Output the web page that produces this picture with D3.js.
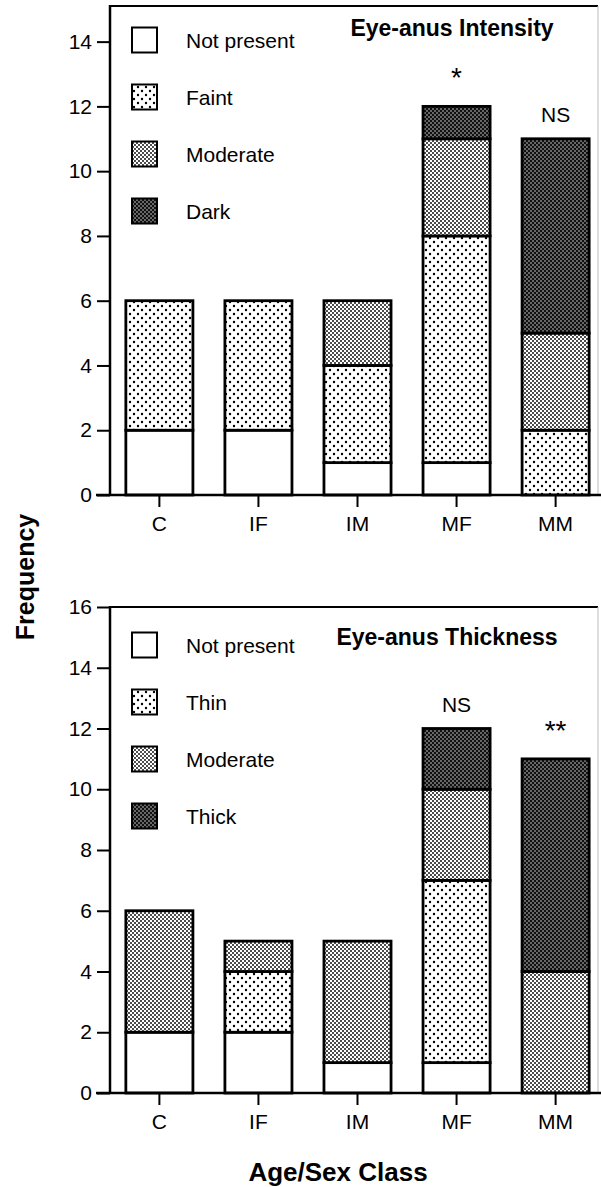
<!DOCTYPE html>
<html>
<head>
<meta charset="utf-8">
<script src="https://cdn.jsdelivr.net/npm/d3@7"></script>
<style>
  body { margin: 0; background: #fff; }
  text { font-family: "Liberation Sans", Arial, sans-serif; fill: #000; }
  .bold { font-weight: bold; }
</style>
</head>
<body>
<script>
// categories and stacked counts
var classes = ["C", "IF", "IM", "MF", "MM"];

// panel 1: eye-anus intensity
var intensityLevels = ["Not present", "Faint", "Moderate", "Dark"];
var intNotPresent = [2, 2, 1, 1, 0];
var intFaint      = [4, 4, 3, 7, 2];
var intModerate   = [0, 0, 2, 3, 3];
var intDark       = [0, 0, 0, 1, 6];
var intSig        = ["", "", "", "*", "NS"];
var intTicks      = [0, 2, 4, 6, 8, 10, 12, 14];

// panel 2: eye-anus thickness
var thicknessLevels = ["Not present", "Thin", "Moderate", "Thick"];
var thkNotPresent = [2, 2, 1, 1, 0];
var thkThin       = [0, 2, 0, 6, 0];
var thkModerate   = [4, 1, 4, 3, 4];
var thkThick      = [0, 0, 0, 2, 7];
var thkSig        = ["", "", "", "NS", "**"];
var thkTicks      = [0, 2, 4, 6, 8, 10, 12, 14, 16];

var w = 601, h = 1187;
var left = 110, right = 605, frameRight = 598;

var svg = d3.select("body").append("svg")
    .attr("width", w)
    .attr("height", h);

// fill patterns, one per level (white, sparse dots, dense dots, dark)
var defs = svg.append("defs");

var pFaint = defs.append("pattern").attr("id", "p-faint")
    .attr("patternUnits", "userSpaceOnUse").attr("width", 8).attr("height", 8);
pFaint.append("rect").attr("width", 8).attr("height", 8).attr("fill", "#fff");
pFaint.append("circle").attr("cx", 2).attr("cy", 2).attr("r", 1.2).attr("fill", "#000");
pFaint.append("circle").attr("cx", 6).attr("cy", 6).attr("r", 1.2).attr("fill", "#000");

var pMod = defs.append("pattern").attr("id", "p-mod")
    .attr("patternUnits", "userSpaceOnUse").attr("width", 4).attr("height", 4);
pMod.append("rect").attr("width", 4).attr("height", 4).attr("fill", "#fff");
pMod.append("circle").attr("cx", 1).attr("cy", 1).attr("r", 0.95).attr("fill", "#000");
pMod.append("circle").attr("cx", 3).attr("cy", 3).attr("r", 0.95).attr("fill", "#000");

var pDark = defs.append("pattern").attr("id", "p-dark")
    .attr("patternUnits", "userSpaceOnUse").attr("width", 4).attr("height", 4);
pDark.append("rect").attr("width", 4).attr("height", 4).attr("fill", "#111");
pDark.append("circle").attr("cx", 1).attr("cy", 1).attr("r", 0.7).attr("fill", "#fff");
pDark.append("circle").attr("cx", 3).attr("cy", 3).attr("r", 0.7).attr("fill", "#fff");

var fills = ["#fff", "url(#p-faint)", "url(#p-mod)", "url(#p-dark)"];

var x = d3.scaleBand()
    .domain(classes)
    .range([left, right])
    .paddingInner(0.323)
    .paddingOuter(0.16);

function drawPanel(cfg) {
  var y = d3.scaleLinear().domain([0, cfg.yMax]).range([cfg.bottom, cfg.top]);
  var g = svg.append("g");

  // stack the four series
  var rows = classes.map(function(c, i) {
    var r = { cls: c };
    cfg.levels.forEach(function(l, j) { r[l] = cfg.series[j][i]; });
    return r;
  });
  var stacked = d3.stack().keys(cfg.levels)(rows);

  stacked.forEach(function(layer, j) {
    g.selectAll(null)
      .data(layer.filter(function(d) { return d[1] > d[0]; }))
      .enter()
      .append("rect")
      .attr("x", function(d) { return x(d.data.cls); })
      .attr("y", function(d) { return y(d[1]); })
      .attr("width", x.bandwidth())
      .attr("height", function(d) { return y(d[0]) - y(d[1]); })
      .attr("fill", fills[j])
      .attr("stroke", "#000")
      .attr("stroke-width", 2.8);
  });

  // frame: top line and faint right edge
  g.append("line")
    .attr("x1", left).attr("x2", frameRight)
    .attr("y1", cfg.top).attr("y2", cfg.top)
    .attr("stroke", "#000").attr("stroke-width", 2);
  g.append("line")
    .attr("x1", frameRight).attr("x2", frameRight)
    .attr("y1", cfg.top).attr("y2", cfg.bottom)
    .attr("stroke", "#bbb").attr("stroke-width", 1);

  // y axis
  var yAxis = g.append("g")
    .attr("transform", "translate(" + left + ",0)")
    .call(d3.axisLeft(y).tickValues(cfg.ticks).tickSize(13).tickPadding(5));
  yAxis.select(".domain").remove();
  yAxis.selectAll(".tick line").attr("stroke-width", 2);
  yAxis.selectAll(".tick text")
    .style("font-size", "21px")
    .style("font-family", "Liberation Sans, Arial, sans-serif");
  g.append("line")
    .attr("x1", left).attr("x2", left)
    .attr("y1", cfg.top - 1).attr("y2", cfg.bottom + 1)
    .attr("stroke", "#000").attr("stroke-width", 2.5);

  // x axis
  var xAxis = g.append("g")
    .attr("transform", "translate(0," + cfg.bottom + ")")
    .call(d3.axisBottom(x).tickSize(12).tickPadding(9));
  xAxis.select(".domain").remove();
  xAxis.selectAll(".tick line").attr("stroke-width", 2);
  xAxis.selectAll(".tick text")
    .style("font-size", "21px")
    .style("font-family", "Liberation Sans, Arial, sans-serif");
  g.append("line")
    .attr("x1", 96).attr("x2", w)
    .attr("y1", cfg.bottom).attr("y2", cfg.bottom)
    .attr("stroke", "#000").attr("stroke-width", 2.5);

  // significance marks above bars
  var totals = classes.map(function(c, i) {
    return d3.sum(cfg.series, function(s) { return s[i]; });
  });
  g.selectAll(null)
    .data(cfg.sig)
    .enter()
    .append("text")
    .attr("x", function(d, i) { return x(classes[i]) + x.bandwidth() / 2; })
    .attr("y", function(d, i) { return y(totals[i]) - (d.indexOf("*") >= 0 ? 19 : 17); })
    .attr("text-anchor", "middle")
    .style("font-size", function(d) { return d.indexOf("*") >= 0 ? "28px" : "21px"; })
    .text(function(d) { return d; });

  // panel title
  g.append("text")
    .attr("class", "bold")
    .attr("x", cfg.titleX)
    .attr("y", cfg.titleY)
    .attr("text-anchor", "middle")
    .style("font-size", "23px")
    .text(cfg.title);

  // legend
  var legend = g.selectAll(".leg")
    .data(cfg.levels)
    .enter()
    .append("g")
    .attr("transform", function(d, i) { return "translate(132," + (cfg.legendY + i * 57) + ")"; });
  legend.append("rect")
    .attr("x", 0).attr("y", -12.5)
    .attr("width", 25).attr("height", 25)
    .attr("fill", function(d, i) { return fills[i]; })
    .attr("stroke", "#000")
    .attr("stroke-width", 2);
  legend.append("text")
    .attr("x", 54)
    .attr("y", 8)
    .style("font-size", "21px")
    .text(function(d) { return d; });
}

drawPanel({
  top: 6, bottom: 495, yMax: 15.1, ticks: intTicks,
  levels: intensityLevels,
  series: [intNotPresent, intFaint, intModerate, intDark],
  sig: intSig,
  title: "Eye-anus Intensity", titleX: 452, titleY: 36,
  legendY: 40
});

drawPanel({
  top: 607, bottom: 1093, yMax: 16, ticks: thkTicks,
  levels: thicknessLevels,
  series: [thkNotPresent, thkThin, thkModerate, thkThick],
  sig: thkSig,
  title: "Eye-anus Thickness", titleX: 447, titleY: 645,
  legendY: 645
});

// shared axis titles
svg.append("text")
  .attr("class", "bold")
  .attr("transform", "translate(34,577) rotate(-90)")
  .attr("text-anchor", "middle")
  .style("font-size", "25px")
  .text("Frequency");

svg.append("text")
  .attr("class", "bold")
  .attr("x", 338)
  .attr("y", 1181)
  .attr("text-anchor", "middle")
  .style("font-size", "26px")
  .text("Age/Sex Class");
</script>
</body>
</html>
